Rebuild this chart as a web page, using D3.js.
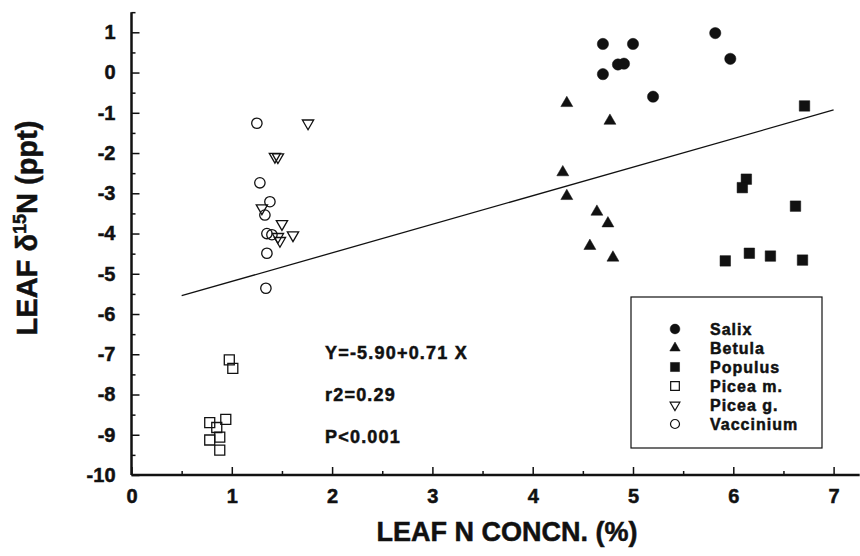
<!DOCTYPE html>
<html>
<head>
<meta charset="utf-8">
<script src="https://cdn.jsdelivr.net/npm/d3@7"></script>
<style>
  body { margin: 0; background: #fff; }
  text { font-family: "Liberation Sans", Arial, sans-serif; font-weight: bold; fill: #111; stroke: #111; stroke-width: 0.5px; }
</style>
</head>
<body>
<div id="chart"></div>
<script>
// leaf N (%) , leaf d15N (ppt)
const salix = [[4.70, 0.71], [5.00, 0.71], [4.85, 0.20], [4.91, 0.22], [4.70, -0.04], [5.20, -0.60], [5.82, 0.98], [5.97, 0.34]];
const betula = [[4.34, -0.76], [4.77, -1.20], [4.30, -2.48], [4.34, -3.07], [4.64, -3.46], [4.75, -3.75], [4.57, -4.31], [4.80, -4.60]];
const populus = [[6.71, -0.83], [6.13, -2.65], [6.09, -2.86], [6.62, -3.32], [5.92, -4.68], [6.16, -4.49], [6.37, -4.56], [6.69, -4.66]];
const piceaM = [[0.975, -7.14], [1.01, -7.35], [0.78, -8.70], [0.94, -8.62], [0.85, -8.82], [0.78, -9.13], [0.88, -9.06], [0.88, -9.38]];
const piceaG = [[1.76, -1.26], [1.43, -2.09], [1.46, -2.10], [1.30, -3.37], [1.50, -3.76], [1.61, -4.04], [1.46, -4.08], [1.48, -4.18]];
const vaccinium = [[1.25, -1.26], [1.28, -2.74], [1.38, -3.21], [1.33, -3.54], [1.35, -4.00], [1.40, -4.03], [1.35, -4.49], [1.34, -5.36]];

const xTicks = [0, 1, 2, 3, 4, 5, 6, 7];
const yTicks = [1, 0, -1, -2, -3, -4, -5, -6, -7, -8, -9, -10];
const legendNames = ["Salix", "Betula", "Populus", "Picea m.", "Picea g.", "Vaccinium"];
const statLines = ["Y=-5.90+0.71 X", "r2=0.29", "P<0.001"];
const fitA = -5.90, fitB = 0.71, fitFrom = 0.5, fitTo = 7;

const W = 860, H = 556;
const x = d3.scaleLinear().domain([0, 7]).range([131.5, 833.6]);
const y = d3.scaleLinear().domain([-10, 1]).range([475, 32.3]);

const svg = d3.select("#chart").append("svg").attr("width", W).attr("height", H);

// symbol styles per series
const styles = [
  {data: salix, type: d3.symbolCircle, size: 100, fill: "#111", rot: 0},
  {data: betula, type: d3.symbolTriangle, size: 62, fill: "#111", rot: 0},
  {data: populus, type: d3.symbolSquare, size: 110, fill: "#111", rot: 0},
  {data: piceaM, type: d3.symbolSquare, size: 100, fill: "none", rot: 0},
  {data: piceaG, type: d3.symbolTriangle, size: 55, fill: "none", rot: 180},
  {data: vaccinium, type: d3.symbolCircle, size: 85, fill: "none", rot: 0}
];

const tickText = g => g.selectAll("text")
  .attr("font-size", 20).attr("font-family", "Liberation Sans").attr("font-weight", "bold");

// axes: minor ticks first
svg.append("g")
  .attr("transform", `translate(${x(0)},0)`)
  .call(d3.axisLeft(y).tickValues(d3.range(-9.5, 1.6, 1)).tickSize(-4).tickFormat(""))
  .call(g => g.select(".domain").remove())
  .call(g => g.selectAll("line").attr("stroke", "#111").attr("stroke-width", 1.5));

svg.append("g")
  .attr("transform", `translate(${x(0)},0)`)
  .call(d3.axisLeft(y).tickValues(yTicks).tickSize(-8).tickPadding(16).tickFormat(d => String(d)))
  .call(g => g.select(".domain").remove())
  .call(g => g.selectAll("line").attr("stroke", "#111").attr("stroke-width", 1.5))
  .call(tickText);

svg.append("g")
  .attr("transform", `translate(0,${y(-10)})`)
  .call(d3.axisBottom(x).tickValues(d3.range(0.5, 7.3, 1)).tickSize(-4).tickFormat(""))
  .call(g => g.select(".domain").remove())
  .call(g => g.selectAll("line").attr("stroke", "#111").attr("stroke-width", 1.5));

svg.append("g")
  .attr("transform", `translate(0,${y(-10)})`)
  .call(d3.axisBottom(x).tickValues(xTicks).tickSize(-8).tickPadding(14).tickFormat(d3.format("d")))
  .call(g => g.select(".domain").remove())
  .call(g => g.selectAll("line").attr("stroke", "#111").attr("stroke-width", 1.5))
  .call(tickText);

// heavy axis lines
svg.append("line").attr("x1", x(0)).attr("x2", x(0)).attr("y1", y(1.5)).attr("y2", y(-10))
  .attr("stroke", "#111").attr("stroke-width", 2.5);
svg.append("line").attr("x1", x(0)).attr("x2", x(7.26)).attr("y1", y(-10)).attr("y2", y(-10))
  .attr("stroke", "#111").attr("stroke-width", 2.5);

// regression line
svg.append("line")
  .attr("x1", x(fitFrom)).attr("y1", y(fitA + fitB * fitFrom))
  .attr("x2", x(fitTo)).attr("y2", y(fitA + fitB * fitTo))
  .attr("stroke", "#111").attr("stroke-width", 1.3);

// points
styles.forEach(s => {
  svg.append("g").selectAll("path").data(s.data).enter().append("path")
    .attr("d", d3.symbol().type(s.type).size(s.size))
    .attr("transform", d => `translate(${x(d[0])},${y(d[1])}) rotate(${s.rot})`)
    .attr("fill", s.fill)
    .attr("stroke", "#111")
    .attr("stroke-width", s.fill === "none" ? 1.3 : 0.5);
});

// stats text
svg.append("g").selectAll("text").data(statLines).enter().append("text")
  .attr("x", 325).attr("y", (d, i) => 359 + i * 42)
  .attr("font-size", 18).attr("letter-spacing", 1.2)
  .text(d => d);

// legend
const lg = svg.append("g");
lg.append("rect").attr("x", 631).attr("y", 297).attr("width", 191).attr("height", 151)
  .attr("fill", "none").attr("stroke", "#111").attr("stroke-width", 1.2);
styles.forEach((s, i) => {
  const yy = 329 + i * 19;
  lg.append("path")
    .attr("d", d3.symbol().type(s.type).size(s.size * 0.75))
    .attr("transform", `translate(675,${yy}) rotate(${s.rot})`)
    .attr("fill", s.fill).attr("stroke", "#111").attr("stroke-width", s.fill === "none" ? 1.2 : 0.5);
  lg.append("text").attr("x", 710).attr("y", yy + 5.5)
    .attr("font-size", 16).attr("letter-spacing", 1)
    .text(legendNames[i]);
});

// axis titles
svg.append("text").attr("x", 507).attr("y", 541).attr("text-anchor", "middle")
  .attr("font-size", 27).text("LEAF N CONCN. (%)");

const yl = svg.append("text")
  .attr("transform", "translate(37,228) rotate(-90)")
  .attr("text-anchor", "middle").attr("font-size", 29);
yl.append("tspan").text("LEAF \u03b4");
yl.append("tspan").attr("font-size", 18).attr("dy", -11).text("15");
yl.append("tspan").attr("dy", 11).text("N (ppt)");
</script>
</body>
</html>
